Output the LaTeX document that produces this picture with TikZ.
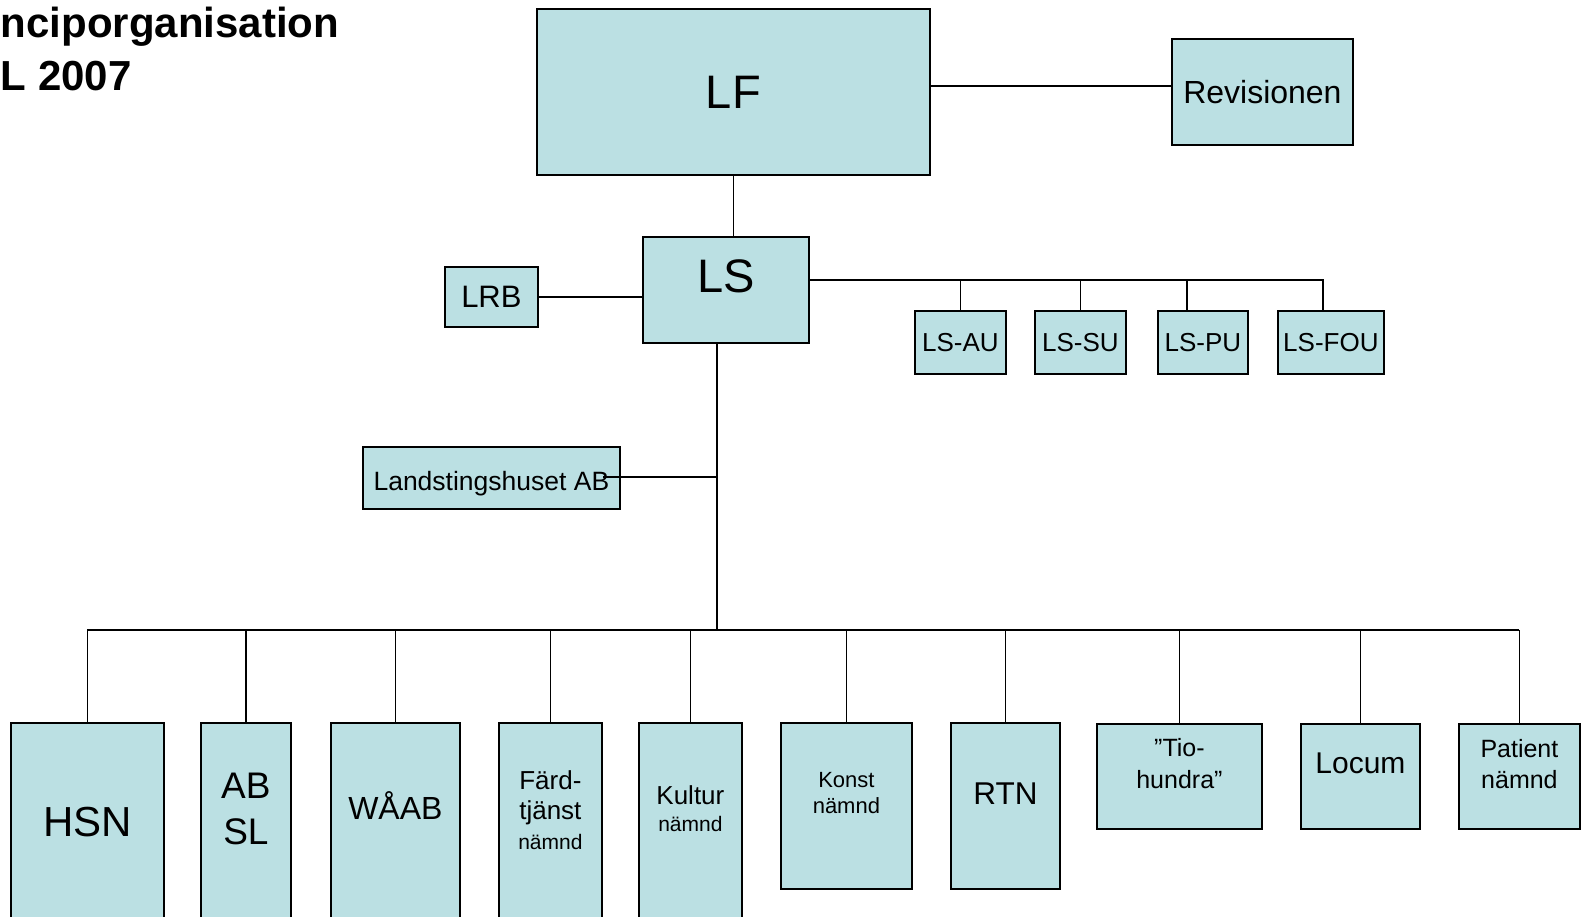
\documentclass[tikz,border=0pt]{standalone}
\usepackage{fontspec}
\setmainfont{Liberation Sans}

\definecolor{boxfill}{HTML}{BBE0E3}
\newcommand{\fsz}[2]{\fontsize{#1pt}{#2pt}\selectfont}

\tikzset{
    box/.style={draw, line width=1.8pt, fill=boxfill, inner sep=0pt, anchor=north west, align=center},
    txt/.style={anchor=center, align=center},
}

\begin{document}
\begin{tikzpicture}[x=1pt, y=-1pt, line width=1.8pt]
    \useasboundingbox (0,0) rectangle (1586,917);

    % Title
    \node[anchor=base west, inner sep=0pt, font=\fsz{42}{50}\bfseries] (title1) at (0,38) {nciporganisation};
    \node[anchor=base west, inner sep=0pt, font=\fsz{42}{50}\bfseries] (title2) at (0,91) {L 2007};

    % Top level
    \node[box, minimum width=393, minimum height=166, font=\fsz{47}{56}] (lf) at (536,8) {LF};
    \node[box, minimum width=181, minimum height=106, font=\fsz{32}{38}] (rev) at (1171,38) {Revisionen};
    \node[box, minimum width=166, minimum height=106,
          label={[txt, yshift=-40pt, font=\fsz{47}{56}]north:LS}] (ls) at (642,236) {};
    \node[box, minimum width=93, minimum height=60, font=\fsz{31}{37}] (lrb) at (444,266) {LRB};

    % Committees under LS
    \node[box, minimum width=91, minimum height=63, font=\fsz{26}{31}] (lsau) at (914,310) {LS-AU};
    \node[box, minimum width=91, minimum height=63, font=\fsz{26}{31}] (lssu) at (1034,310) {LS-SU};
    \node[box, minimum width=90, minimum height=63, font=\fsz{26}{31}] (lspu) at (1157,310) {LS-PU};
    \node[box, minimum width=106, minimum height=63, font=\fsz{26}{31}] (lsfou) at (1277,310) {LS-FOU};

    \node[box, minimum width=257, minimum height=62,
          label={[txt, anchor=base, yshift=-44pt, font=\fsz{26.5}{32}]north:Landstingshuset AB}] (lhab) at (362,446) {};

    % Bottom row
    \node[box, minimum width=153, minimum height=220,
          label={[txt, yshift=-100pt, font=\fsz{42}{50}]north:HSN}] (hsn) at (10,722) {};
    \node[box, minimum width=90, minimum height=220,
          label={[txt, yshift=-87pt, font=\fsz{37}{45.5}]north:AB\\SL}] (absl) at (200,722) {};
    \node[box, minimum width=129, minimum height=220,
          label={[txt, yshift=-84pt, font=\fsz{32}{38}]north:WÅAB}] (waab) at (330,722) {};
    \node[box, minimum width=103, minimum height=220,
          label={[txt, yshift=-88pt, font=\fsz{26}{30}]north:Färd-\\tjänst\\{\fsz{21}{25}nämnd}}] (fard) at (498,722) {};
    \node[box, minimum width=103, minimum height=220,
          label={[txt, yshift=-87pt, font=\fsz{26}{27}]north:Kultur\\{\fsz{21}{26}nämnd}}] (kultur) at (638,722) {};
    \node[box, minimum width=131, minimum height=166,
          label={[txt, yshift=-71pt, font=\fsz{22}{26}]north:Konst\\nämnd}] (konst) at (780,722) {};
    \node[box, minimum width=109, minimum height=166,
          label={[txt, yshift=-72pt, font=\fsz{31.5}{38}]north:RTN}] (rtn) at (950,722) {};
    \node[box, minimum width=165, minimum height=105,
          label={[txt, yshift=-41pt, font=\fsz{25}{32}]north:”Tio-\\hundra”}] (tio) at (1096,723) {};
    \node[box, minimum width=119, minimum height=105,
          label={[txt, yshift=-40pt, font=\fsz{30}{36}]north:Locum}] (locum) at (1300,723) {};
    \node[box, minimum width=121, minimum height=105,
          label={[txt, yshift=-41pt, font=\fsz{25}{31}]north:Patient\\nämnd}] (pat) at (1458,723) {};

    % Connectors at the top
    \draw ([yshift=6pt]lf.east) -- ([yshift=6pt]rev.west);
    \draw (lf.south) -- (lf.south |- ls.north);
    \draw (lrb.east) -- (lrb.east -| ls.west);

    % LS committees
    \coordinate (lsbus) at (1323,280);
    \draw (ls.east |- lsbus) -- (lsbus) -- (lsbus |- lsfou.north);
    \draw (lsau.north) -- (lsau.north |- lsbus);
    \draw (lssu.north) -- (lssu.north |- lsbus);
    \draw ([xshift=-16pt]lspu.north) -- ([xshift=-16pt]lspu.north |- lsbus);

    % Trunk down from LS
    \coordinate (trunk) at (717,630);
    \draw (ls.south -| trunk) -- (trunk);
    \coordinate (lhend) at (603,477);
    \draw (lhend) -- (lhend -| trunk);

    % Bottom bus
    \draw (hsn.north |- trunk) -- (pat.north |- trunk);
    \foreach \n in {hsn,absl,waab,fard,kultur,konst,rtn,tio,locum,pat}
        \draw (\n.north) -- (\n.north |- trunk);
\end{tikzpicture}
\end{document}
